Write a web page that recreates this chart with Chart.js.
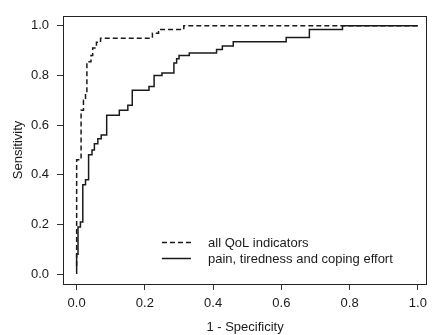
<!DOCTYPE html>
<html><head><meta charset="utf-8">
<script src="https://cdn.jsdelivr.net/npm/chart.js@4/dist/chart.umd.min.js"></script>
<style>html,body{margin:0;padding:0;background:#fff}#wrap{width:433px;height:335px}</style>
</head><body><div id="wrap"><canvas id="c" width="433" height="335"></canvas></div>
<script>
// ---- data ----
const seriesNames = ['all QoL indicators', 'pain, tiredness and coping effort'];
// ROC corner points (x = 1 - specificity, y = sensitivity), drawn as steps
const qolFpr = [0, 0, 0.013, 0.020, 0.026, 0.030, 0.042, 0.047, 0.058, 0.070, 0.222, 0.240, 0.314, 1.0];
const qolTpr = [0, 0.46, 0.66, 0.70, 0.73, 0.855, 0.88, 0.91, 0.933, 0.95, 0.97, 0.985, 1.0, 1.0];
const ptcFpr = [0, 0, 0.004, 0.011, 0.018, 0.026, 0.035, 0.045, 0.052, 0.062, 0.072, 0.088, 0.125, 0.150, 0.163, 0.212, 0.227, 0.250, 0.285, 0.293, 0.300, 0.330, 0.410, 0.427, 0.459, 0.614, 0.682, 0.779, 1.0];
const ptcTpr = [0.02, 0.08, 0.19, 0.21, 0.36, 0.38, 0.48, 0.50, 0.525, 0.545, 0.56, 0.64, 0.66, 0.68, 0.74, 0.755, 0.80, 0.81, 0.85, 0.867, 0.88, 0.89, 0.904, 0.918, 0.936, 0.953, 0.985, 1.0, 1.0];
const xTicks = [0, 0.2, 0.4, 0.6, 0.8, 1.0];
const yTicks = [0, 0.2, 0.4, 0.6, 0.8, 1.0];
const xTitle = '1 - Specificity';
const yTitle = 'Sensitivity';

// ---- chart ----
const INK = '#1a1a1a';
Chart.defaults.font.family = "'Liberation Sans', Arial, sans-serif";
Chart.defaults.font.size = 13;
Chart.defaults.color = INK;

const toPts = (xs, ys) => xs.map((x, i) => ({x: x, y: ys[i]}));

const boxPlugin = {
  id: 'box',
  afterDraw(chart) {
    const {ctx, chartArea: a} = chart;
    ctx.save();
    ctx.strokeStyle = '#222';
    ctx.lineWidth = 1;
    ctx.strokeRect(Math.round(a.left) + 0.5, Math.round(a.top) + 0.5, Math.round(a.right - a.left) - 1, Math.round(a.bottom - a.top));
    ctx.restore();
  }
};

const legendPlugin = {
  id: 'innerLegend',
  afterDraw(chart) {
    const {ctx} = chart;
    const xs = chart.scales.x, ys = chart.scales.y;
    const x0 = xs.getPixelForValue(0.25), x1 = xs.getPixelForValue(0.335), xt = xs.getPixelForValue(0.385);
    const rows = [ys.getPixelForValue(0.128), ys.getPixelForValue(0.066)];
    ctx.save();
    ctx.font = "13px 'Liberation Sans', Arial, sans-serif";
    ctx.textBaseline = 'middle';
    ctx.fillStyle = INK;
    chart.data.datasets.forEach((ds, i) => {
      const y = Math.round(rows[i]) + 0.5;
      ctx.beginPath();
      ctx.setLineDash(ds.borderDash || []);
      ctx.strokeStyle = ds.borderColor;
      ctx.lineWidth = ds.borderWidth;
      ctx.moveTo(x0, y); ctx.lineTo(x1, y);
      ctx.stroke();
      ctx.setLineDash([]);
      ctx.fillText(ds.label, xt, y + 1);
    });
    ctx.restore();
  }
};

new Chart(document.getElementById('c'), {
  type: 'line',
  data: {
    datasets: [
      {label: seriesNames[0], data: toPts(qolFpr, qolTpr), stepped: 'before', borderColor: INK, borderWidth: 1.5, borderDash: [5, 3], pointRadius: 0, fill: false},
      {label: seriesNames[1], data: toPts(ptcFpr, ptcTpr), stepped: 'before', borderColor: INK, borderWidth: 1.5, pointRadius: 0, fill: false}
    ]
  },
  options: {
    responsive: false,
    devicePixelRatio: 1,
    animation: false,
    layout: {padding: {top: 11, right: 3, left: 0, bottom: 0}},
    plugins: {legend: {display: false}, tooltip: {enabled: false}},
    scales: {
      x: {
        type: 'linear', min: -0.04, max: 1.027,
        afterBuildTicks: s => { s.ticks = xTicks.map(v => ({value: v})); },
        afterFit: s => { s.height = 51; },
        ticks: {callback: v => Number(v).toFixed(1), padding: 6, maxRotation: 0, autoSkip: false, color: INK},
        grid: {drawOnChartArea: false, drawTicks: true, tickLength: 6, color: '#333'},
        border: {display: false},
        title: {display: true, text: xTitle, padding: {top: 0, bottom: 0}, color: INK, font: {size: 13}}
      },
      y: {
        type: 'linear', min: -0.04, max: 1.04,
        afterBuildTicks: s => { s.ticks = yTicks.map(v => ({value: v})); },
        afterFit: s => { s.width = 63; },
        ticks: {callback: v => Number(v).toFixed(1), padding: 8, autoSkip: false, color: INK},
        grid: {drawOnChartArea: false, drawTicks: true, tickLength: 6, color: '#333'},
        border: {display: false},
        title: {display: true, text: yTitle, padding: {top: 11, bottom: 0}, color: INK, font: {size: 13}}
      }
    }
  },
  plugins: [boxPlugin, legendPlugin]
});
</script>
</body></html>
